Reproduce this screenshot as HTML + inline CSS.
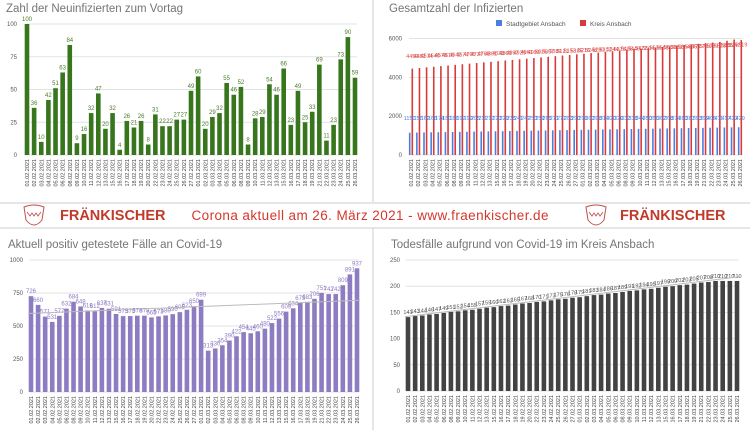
<!DOCTYPE html>
<html><head><meta charset="utf-8"><style>
body{margin:0;background:#fff;width:750px;height:430px;overflow:hidden;font-family:"Liberation Sans",sans-serif}
</style></head><body>
<svg id="s" width="750" height="430" xmlns="http://www.w3.org/2000/svg" font-family="Liberation Sans, sans-serif"></svg>
<script>
const S=document.getElementById('s');let h='';
const dates=['01.02','02.02','03.02','04.02','05.02','06.02','08.02','09.02','10.02','11.02','12.02','13.02','15.02','16.02','17.02','18.02','19.02','20.02','22.02','23.02','24.02','25.02','26.02','27.02','01.03','02.03','03.03','04.03','05.03','06.03','08.03','09.03','10.03','11.03','12.03','13.03','15.03','16.03','17.03','18.03','19.03','21.03','22.03','23.03','24.03','25.03','26.03'];
const N=47;
function chart(o){
  // o: x0,x1,y0,ytop,max,ticks,title,titleY,data series
  h+=`<text x="${o.tx}" y="${o.titleY}" font-size="11.5" fill="#757575">${o.title}</text>`;
  o.ticks.forEach(t=>{const y=o.y0-(o.y0-o.ytop)*t/o.max;h+=`<line x1="${o.x0-2}" x2="${o.x1+2}" y1="${y}" y2="${y}" stroke="#e3e3e3" stroke-width="1"/><text x="${o.lx}" y="${y+2}" font-size="6" fill="#555" text-anchor="end">${t}</text>`;});
  const step=(o.x1-o.x0)/(N-1);
  for(let i=0;i<N;i++){const cx=o.x0+i*step;
    o.series.forEach(s=>{const v=s.d[i];const y=o.y0-(o.y0-o.ytop)*v/o.max;const bx=cx+s.off-s.w/2;
      h+=`<rect x="${bx}" y="${y}" width="${s.w}" height="${o.y0-y}" fill="${s.c}"/>`;
      const ly=s.ly!==undefined?s.ly(i):y-3;
      h+=`<text x="${cx+s.off}" y="${ly}" font-size="${s.fs||6}" fill="${s.lc}" text-anchor="middle">${v}</text>`;});
    h+=`<text transform="translate(${cx+2},${o.y0+4}) rotate(-90)" font-size="5.5" fill="#444" text-anchor="end">${dates[i]}.2021</text>`;
  }
  if(o.trend){const [a,b]=o.trend;const ya=o.y0-(o.y0-o.ytop)*a/o.max,yb=o.y0-(o.y0-o.ytop)*b/o.max;h+=`<line x1="${o.x0-3}" x2="${o.x1+3}" y1="${ya}" y2="${yb}" stroke="#bbb" stroke-width="1"/>`;}
}
// top-left
chart({x0:27,x1:355,y0:155,ytop:24,max:100,ticks:[0,25,50,75,100],lx:17,tx:6,titleY:12,title:'Zahl der Neuinfizierten zum Vortag',
 series:[{d:[100,36,10,42,51,63,84,9,16,32,47,20,32,4,26,21,26,8,31,22,22,27,27,49,60,20,29,32,55,46,52,8,28,29,54,46,66,23,49,25,33,69,11,23,73,90,59],w:4.6,off:0,c:'#38761d',lc:'#4a7c2a'}]});
// top-right
const red=[],blue=[];for(let i=0;i<N;i++){red.push(Math.round(4450+i*(1469/46)+(i>43?(i-43)*30:0)));blue.push(Math.round(1150+i*(279/46)));}
red[46]=5919;blue[46]=1429;
chart({x0:411,x1:740,y0:155,ytop:38.5,max:6000,ticks:[0,2000,4000,6000],lx:402,tx:389,titleY:12,title:'Gesamtzahl der Infizierten',
 series:[{d:blue,w:1.6,off:-1.3,c:'#4a7fe0',lc:'#4a7fe0',fs:5.5,ly:i=>120},{d:red,w:1.6,off:1.3,c:'#d93a3a',lc:'#d94a4a',fs:5.5,ly:i=>58-i*0.25}]});
h+=`<rect x="496" y="20" width="6" height="6" fill="#4a7fe0"/><text x="506" y="26" font-size="6.5" fill="#555">Stadtgebiet Ansbach</text><rect x="580" y="20" width="6" height="6" fill="#d93a3a"/><text x="590" y="26" font-size="6.5" fill="#555">Kreis Ansbach</text>`;
// bottom-left
chart({x0:31,x1:357,y0:392,ytop:260,max:1000,ticks:[0,250,500,750,1000],lx:23,tx:8,titleY:248,title:'Aktuell positiv getestete Fälle an Covid-19',trend:[595,695],
 series:[{d:[726,660,571,531,577,632,684,648,618,612,637,631,591,575,575,578,578,565,573,580,590,605,623,650,699,313,330,354,390,422,454,445,460,480,522,556,609,634,675,683,706,751,742,742,809,891,937],w:4.6,off:0,c:'#8e7cc3',lc:'#8e7cc3'}]});
// bottom-right
const td=[];for(let i=0;i<N;i++){td.push(Math.min(210,Math.round(141+i*1.6)));}
chart({x0:408,x1:737,y0:391,ytop:260,max:250,ticks:[0,50,100,150,200,250],lx:400,tx:391,titleY:248,title:'Todesfälle aufgrund von Covid-19 im Kreis Ansbach',trend:[142,218],
 series:[{d:td,w:4.6,off:0,c:'#434343',lc:'#555',fs:5.5}]});
// separators & banner
h+=`<line x1="373" x2="373" y1="0" y2="202" stroke="#ccc"/><line x1="373" x2="373" y1="228" y2="430" stroke="#ccc"/>`;
h+=`<rect x="0" y="203" width="750" height="25" fill="#fff"/><line x1="0" x2="750" y1="203" y2="203" stroke="#ccc"/><line x1="0" x2="750" y1="228" y2="228" stroke="#ccc"/>`;
function logo(x){h+=`<path d="M${x} 207 Q${x+10} 203 ${x+20} 207 L${x+18} 220 Q${x+10} 230 ${x+2} 220 Z" fill="none" stroke="#c0504d" stroke-width="1"/><path d="M${x+3} 212 l3 4 l2-3 l2 3 l2-3 l2 3 l3-4" fill="none" stroke="#c0504d" stroke-width="0.8"/>`;}
logo(24);logo(586);
h+=`<text x="60" y="220" font-size="14.5" font-weight="bold" fill="#c0392b">FRÄNKISCHER</text>`;
h+=`<text x="620" y="220" font-size="14.5" font-weight="bold" fill="#c0392b">FRÄNKISCHER</text>`;
h+=`<text x="370" y="220" font-size="13.5" fill="#d4372c" text-anchor="middle" textLength="357">Corona aktuell am 26. März 2021 - www.fraenkischer.de</text>`;
S.innerHTML=h;
</script>
</body></html>
